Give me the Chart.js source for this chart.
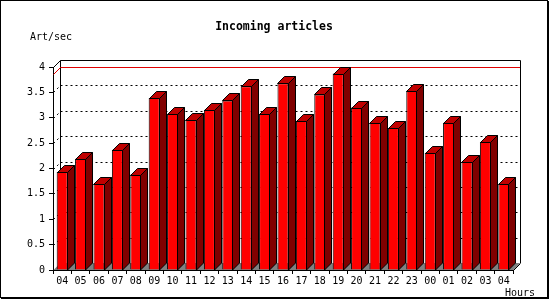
<!DOCTYPE html>
<html>
<head>
<meta charset="utf-8">
<script src="https://cdn.jsdelivr.net/npm/chart.js@4.4.1/dist/chart.umd.min.js"></script>
<style>
  html, body { margin: 0; padding: 0; background: #fff; }
  canvas { display: block; }
</style>
</head>
<body>
<canvas id="chart" width="550" height="300"></canvas>
<script>
// data
const hours = ["04", "05", "06", "07", "08", "09", "10", "11", "12", "13", "14", "15", "16",
               "17", "18", "19", "20", "21", "22", "23", "00", "01", "02", "03", "04"];
const artPerSec = [1.93, 2.19, 1.70, 2.37, 1.88, 3.39, 3.08, 2.96, 3.16, 3.34, 3.62, 3.08, 3.68,
                   2.94, 3.46, 3.87, 3.20, 2.90, 2.80, 3.53, 2.31, 2.90, 2.13, 2.52, 1.70];
const yTickLabels = ["0", "0.5", "1", "1.5", "2", "2.5", "3", "3.5", "4"];
const chartTitle = "Incoming articles";
const yTitle = "Art/sec";
const xTitle = "Hours";

const DEPTH = 7;
const MONO = '"DejaVu Sans Mono", monospace';

function poly(ctx, pts, fill) {
  ctx.beginPath();
  ctx.moveTo(pts[0][0], pts[0][1]);
  for (let i = 1; i < pts.length; i++) ctx.lineTo(pts[i][0], pts[i][1]);
  ctx.closePath();
  if (fill) { ctx.fillStyle = fill; ctx.fill(); }
  ctx.stroke();
}

function line(ctx, x1, y1, x2, y2) {
  ctx.beginPath();
  ctx.moveTo(x1, y1);
  ctx.lineTo(x2, y2);
  ctx.stroke();
}

// back wall, floor, grid and the 3D faces of the bars
const bars3d = {
  id: "bars3d",
  beforeDatasetsDraw(chart) {
    const { ctx, chartArea: a, scales: { y } } = chart;
    const L = a.left + 0.5, R = a.right + 0.5, T = Math.round(a.top) + 0.5, B = Math.round(a.bottom) - 0.5;
    ctx.save();
    ctx.lineWidth = 1;
    ctx.strokeStyle = "#000";

    // floor
    ctx.fillStyle = "#808080";
    ctx.beginPath();
    ctx.moveTo(L, B + 0.5);
    ctx.lineTo(L + DEPTH, B + 0.5 - DEPTH);
    ctx.lineTo(R + DEPTH, B + 0.5 - DEPTH);
    ctx.lineTo(R, B + 0.5);
    ctx.closePath();
    ctx.fill();

    // dotted grid lines on the back wall
    ctx.setLineDash([2, 3]);
    y.ticks.forEach(t => {
      if (t.value <= y.min || t.value >= y.max) return;
      const yf = Math.round(y.getPixelForValue(t.value)) + 0.5;
      line(ctx, L, yf, L + DEPTH, yf - DEPTH);
      line(ctx, L + DEPTH, yf - DEPTH, R + DEPTH, yf - DEPTH);
    });
    ctx.setLineDash([]);

    // back frame
    line(ctx, L, T, L + DEPTH, T - DEPTH);
    line(ctx, L + DEPTH, T - DEPTH, R + DEPTH, T - DEPTH);
    line(ctx, L + DEPTH, T - DEPTH, L + DEPTH, B - DEPTH);
    line(ctx, R + DEPTH, T - DEPTH, R + DEPTH, B - DEPTH + 0.5);

    // max value line
    const maxVal = Math.max(...artPerSec);
    const ym = Math.round(y.getPixelForValue(maxVal)) + 0.5;
    ctx.strokeStyle = "#e00000";
    line(ctx, L, ym, L + DEPTH, ym - DEPTH);
    line(ctx, L + DEPTH, ym - DEPTH, R + DEPTH - 0.5, ym - DEPTH);
    ctx.restore();
  },
  afterDatasetsDraw(chart) {
    const { ctx, chartArea: a } = chart;
    const meta = chart.getDatasetMeta(0);
    ctx.save();
    ctx.lineWidth = 1;
    ctx.strokeStyle = "#000";
    ctx.lineJoin = "miter";
    meta.data.forEach(bar => {
      const p = bar.getProps(["x", "y", "base", "width"], true);
      const l = Math.round(p.x - p.width / 2) + 0.5;
      const r = Math.round(p.x + p.width / 2) - 0.5;
      const t = Math.round(p.y) + 0.5;
      const b = Math.round(p.base);
      poly(ctx, [[l, t], [l + DEPTH, t - DEPTH], [r + DEPTH, t - DEPTH], [r, t]], "#c00000");
      poly(ctx, [[r, t], [r + DEPTH, t - DEPTH], [r + DEPTH, b - DEPTH], [r, b]], "#800000");
    });
    // front right floor edge
    const R = a.right + 0.5, B = Math.round(a.bottom) + 0.5;
    line(ctx, R, B, R + DEPTH, B - DEPTH);
    ctx.restore();
  },
  afterDraw(chart) {
    const { ctx } = chart;
    ctx.save();
    ctx.fillStyle = "#000";
    ctx.textBaseline = "middle";
    ctx.font = "bold 11.5px " + MONO;
    ctx.textAlign = "center";
    ctx.fillText(chartTitle, 274, 27);
    ctx.font = "10px " + MONO;
    ctx.textAlign = "left";
    ctx.fillText(yTitle, 30, 37);
    ctx.fillText(xTitle, 505, 293);
    // outer frame
    ctx.strokeStyle = "#000";
    ctx.lineWidth = 1;
    ctx.strokeRect(0.5, 0.5, 547, 297);
    line(ctx, 548.5, 1, 548.5, 299);
    line(ctx, 1, 298.5, 549, 298.5);
    ctx.restore();
  }
};

new Chart(document.getElementById("chart"), {
  type: "bar",
  data: {
    labels: hours,
    datasets: [{
      data: artPerSec,
      backgroundColor: "#ff0000",
      borderColor: "#000",
      borderWidth: 1,
      barPercentage: 0.6,
      categoryPercentage: 1
    }]
  },
  options: {
    responsive: false,
    animation: false,
    devicePixelRatio: 1,
    layout: { padding: { left: 0, right: 37, top: 67, bottom: 0 } },
    plugins: {
      legend: { display: false },
      tooltip: { enabled: false },
      title: { display: false }
    },
    scales: {
      x: {
        grid: { offset: true, drawOnChartArea: false, drawTicks: true, tickLength: 4, color: "#000" },
        border: { color: "#000" },
        ticks: { color: "#000", font: { family: MONO, size: 10 }, padding: 1, maxRotation: 0, autoSkip: false },
        afterFit: s => { s.height = 30; }
      },
      y: {
        min: 0,
        max: 4,
        grid: { drawOnChartArea: false, drawTicks: true, tickLength: 4, color: "#000" },
        border: { color: "#000" },
        ticks: {
          stepSize: 0.5,
          color: "#000",
          font: { family: MONO, size: 10 },
          padding: 4,
          callback: (v, i) => yTickLabels[i]
        },
        afterFit: s => { s.width = 53; }
      }
    }
  },
  plugins: [bars3d]
});
</script>
</body>
</html>
